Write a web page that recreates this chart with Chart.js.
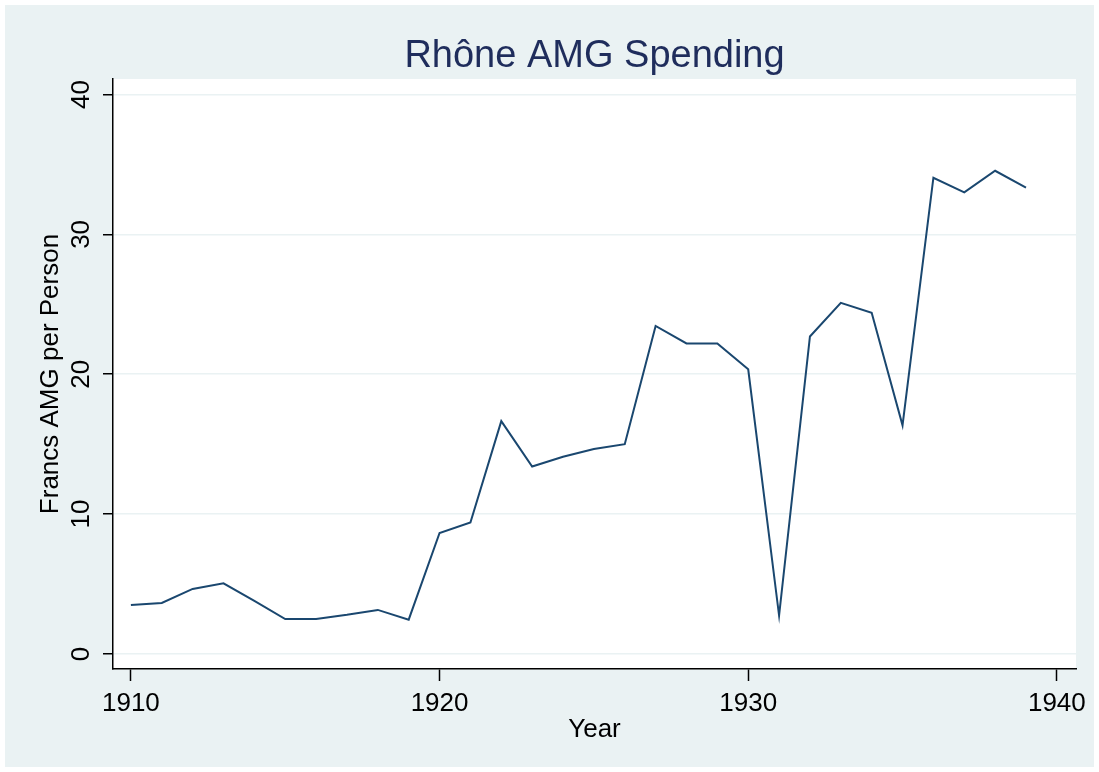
<!DOCTYPE html>
<html>
<head>
<meta charset="utf-8">
<script src="https://cdn.jsdelivr.net/npm/chart.js@4"></script>
<style>
  body { margin: 0; background: #fff; }
  #wrap { width: 1099px; height: 772px; }
</style>
</head>
<body>
<div id="wrap"><canvas id="myChart" width="1099" height="772"></canvas></div>
<script>
// data
var years = [1910, 1911, 1912, 1913, 1914, 1915, 1916, 1917, 1918, 1919,
             1920, 1921, 1922, 1923, 1924, 1925, 1926, 1927, 1928, 1929,
             1930, 1931, 1932, 1933, 1934, 1935, 1936, 1937, 1938, 1939];
var spending = [3.5, 3.65, 4.65, 5.05, 3.8, 2.5, 2.5, 2.8, 3.15, 2.45,
                8.65, 9.4, 16.65, 13.4, 14.1, 14.65, 15.0, 23.45, 22.2, 22.2,
                20.35, 2.75, 22.7, 25.1, 24.4, 16.35, 34.05, 33.0, 34.55, 33.35];
var xTicks = [1910, 1920, 1930, 1940];
var yTicks = [0, 10, 20, 30, 40];
var chartTitle = 'Rhône AMG Spending';

var FONT = '"Liberation Sans", Arial, sans-serif';

// stata-like background: outer frame + white plot region
var bgPlugin = {
    id: 'stataBg',
    beforeDraw: function (chart) {
        var c = chart.ctx, a = chart.chartArea;
        c.save();
        c.fillStyle = '#ffffff';
        c.fillRect(0, 0, chart.width, chart.height);
        c.fillStyle = '#eaf2f3';
        c.fillRect(5, 5, chart.width - 10, chart.height - 10);
        c.fillStyle = '#ffffff';
        c.fillRect(a.left, a.top, a.right - a.left, a.bottom - a.top);
        c.restore();
    }
};

// title centred over the plot region (stata does that, chart.js centres on the box)
var titlePlugin = {
    id: 'plotTitle',
    afterDraw: function (chart) {
        var c = chart.ctx, a = chart.chartArea;
        c.save();
        c.font = '38px ' + FONT;
        c.fillStyle = '#1f2d5c';
        c.textAlign = 'center';
        c.textBaseline = 'alphabetic';
        c.fillText(chartTitle, (a.left + a.right) / 2, 67);
        c.restore();
    }
};

var ctx = document.getElementById('myChart').getContext('2d');

var mychart = new Chart(ctx, {
    type: 'line',
    data: {
        datasets: [{
            label: 'Francs AMG per Person',
            data: years.map(function (y, i) { return { x: y, y: spending[i] }; }),
            borderColor: '#1a476f',
            backgroundColor: '#1a476f',
            borderWidth: 2,
            pointRadius: 0,
            fill: false,
            tension: 0
        }]
    },
    options: {
        responsive: false,
        animation: false,
        layout: {
            padding: { left: 0, right: 23, top: 79, bottom: 0 }
        },
        plugins: {
            legend: { display: false },
            tooltip: { enabled: false },
            title: { display: false }
        },
        scales: {
            x: {
                type: 'linear',
                min: 1909.42,
                max: 1940.62,
                afterBuildTicks: function (scale) {
                    scale.ticks = xTicks.map(function (v) { return { value: v }; });
                },
                afterFit: function (scale) { scale.height = 103; },
                grid: {
                    drawOnChartArea: false,
                    tickColor: '#000',
                    tickLength: 12,
                    tickWidth: 1.5
                },
                border: { color: '#000', width: 1.5 },
                ticks: {
                    color: '#000',
                    font: { family: FONT, size: 26 },
                    padding: 7,
                    maxRotation: 0,
                    minRotation: 0,
                    callback: function (v) { return String(v); }
                },
                title: {
                    display: true,
                    text: 'Year',
                    color: '#000',
                    font: { family: FONT, size: 26 },
                    padding: { top: 0, bottom: 27 }
                }
            },
            y: {
                min: -1.075,
                max: 41.11,
                afterBuildTicks: function (scale) {
                    scale.ticks = yTicks.map(function (v) { return { value: v }; });
                },
                afterFit: function (scale) { scale.width = 113; },
                grid: {
                    color: '#eaf2f3',
                    lineWidth: 1.5,
                    tickColor: '#000',
                    tickLength: 10,
                    tickWidth: 1.5
                },
                border: { color: '#000', width: 1.5 },
                ticks: {
                    color: '#000',
                    font: { family: FONT, size: 26 },
                    minRotation: 90,
                    maxRotation: 90,
                    crossAlign: 'center',
                    padding: 7,
                    callback: function (v) { return String(v); }
                },
                title: {
                    display: true,
                    text: 'Francs AMG per Person',
                    color: '#000',
                    font: { family: FONT, size: 26 },
                    padding: { top: 35, bottom: 0 }
                }
            }
        }
    },
    plugins: [bgPlugin, titlePlugin]
});
</script>
</body>
</html>
